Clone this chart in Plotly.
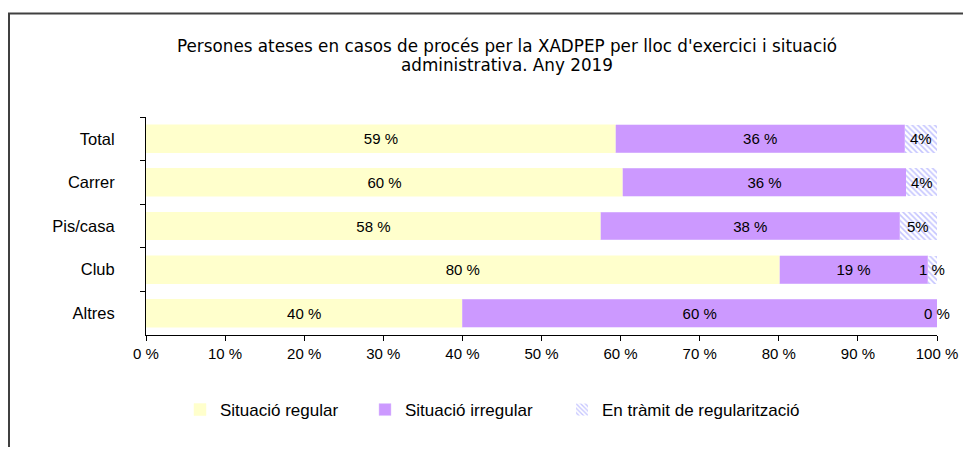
import plotly.graph_objects as go

categories = ["Total", "Carrer", "Pis/casa", "Club", "Altres"]
regular = [59.4, 60.3, 57.5, 80.1, 40.0]
irregular = [36.5, 35.8, 37.8, 18.7, 60.0]
pending = [4.1, 3.9, 4.7, 1.2, 0.0]
regular_labels = ["59 %", "60 %", "58 %", "80 %", "40 %"]
irregular_labels = ["36 %", "36 %", "38 %", "19 %", "60 %"]
pending_labels = ["4%", "4%", "5%", "1 %", "0 %"]
x_ticks = [0, 10, 20, 30, 40, 50, 60, 70, 80, 90, 100]
x_tick_labels = ["0 %", "10 %", "20 %", "30 %", "40 %", "50 %", "60 %", "70 %", "80 %", "90 %", "100 %"]
series_names = ["Situació regular", "Situació irregular", "En tràmit de regularització"]
title_lines = ["Persones ateses en casos de procés per la XADPEP per lloc d'exercici i situació",
               "administrativa. Any 2019"]

OFF = 8  # page body margin
W, H = 955, 439
L, T = 138, 109
pw, ph = 791, 218
R, B = W - L - pw, H - T - ph

def sx(x):  # screen x -> paper
    return (x - OFF - L) / pw

def sy(y):  # screen y -> paper
    return (H - B - (y - OFF)) / ph

FONT = "Liberation Sans"
fig = go.Figure()

common = dict(orientation="h", textposition="inside", insidetextanchor="middle",
              textangle=0, constraintext="none",
              textfont=dict(family=FONT, size=15, color="black"))

fig.add_trace(go.Bar(y=categories, x=regular, name=series_names[0], text=regular_labels,
                     legend="legend",
                     marker=dict(color="#FFFFCC", line=dict(color="#FFFFCC", width=0.5)), **common))
fig.add_trace(go.Bar(y=categories, x=irregular, name=series_names[1], text=irregular_labels,
                     legend="legend2",
                     marker=dict(color="#CC99FF", line=dict(color="#E0C8FF", width=0.5)), **common))
fig.add_trace(go.Bar(y=categories, x=pending, name=series_names[2], textposition="none",
                     orientation="h", legend="legend3",
                     marker=dict(color="white",
                                 pattern=dict(shape="\\", fgcolor="#8C8CFF", bgcolor="white",
                                              size=4, solidity=0.4),
                                 line=dict(width=0))))

# labels for the thin last segment (centered on the segment, allowed to overflow)
for c, r_, i_, p_, lab in zip(categories, regular, irregular, pending, pending_labels):
    fig.add_annotation(x=r_ + i_ + p_ / 2, y=c, xref="x", yref="y", text=lab, showarrow=False,
                       xanchor="center", yanchor="middle",
                       font=dict(family=FONT, size=15, color="black"))

def leg(xpix):
    return dict(orientation="h", x=sx(xpix), xanchor="left", y=sy(410), yanchor="middle",
                font=dict(family=FONT, size=17), itemwidth=30, bgcolor="rgba(0,0,0,0)")

fig.update_layout(
    width=W, height=H,
    barmode="stack", bargap=0.36,
    margin=dict(l=L, r=R, t=T, b=B, autoexpand=False, pad=0),
    paper_bgcolor="white", plot_bgcolor="white",
    font=dict(family=FONT, size=15, color="black"),
    showlegend=True,
    legend=leg(180), legend2=leg(365), legend3=leg(562),
)
for line, ypix in zip(title_lines, [46, 65]):
    fig.add_annotation(text=line, xref="paper", yref="paper", x=sx(507), y=sy(ypix),
                       xanchor="center", yanchor="middle", showarrow=False,
                       font=dict(family="DejaVu Sans", size=16.8, color="black"))

fig.update_xaxes(range=[0, 100], tickvals=x_ticks, ticktext=x_tick_labels, ticks="outside", ticklen=5,
                 tickcolor="black", showline=True, linecolor="black", linewidth=1, showgrid=False,
                 zeroline=False, tickfont=dict(family=FONT, size=15), fixedrange=True)
fig.update_yaxes(categoryorder="array", categoryarray=categories, autorange="reversed",
                 ticks="outside", ticklen=5, tickson="boundaries", tickcolor="black",
                 showline=True, linecolor="black", linewidth=1, showgrid=False,
                 tickfont=dict(family=FONT, size=16.5), ticklabelstandoff=27, fixedrange=True)

# outer frame (top and left edges visible)
fig.add_shape(type="line", xref="paper", yref="paper", x0=sx(8), x1=sx(990), y0=sy(13.5), y1=sy(13.5),
              line=dict(color="#404040", width=2))
fig.add_shape(type="line", xref="paper", yref="paper", x0=sx(9), x1=sx(9), y0=sy(13), y1=sy(470),
              line=dict(color="#404040", width=2))

fig.write_html("out.html")
